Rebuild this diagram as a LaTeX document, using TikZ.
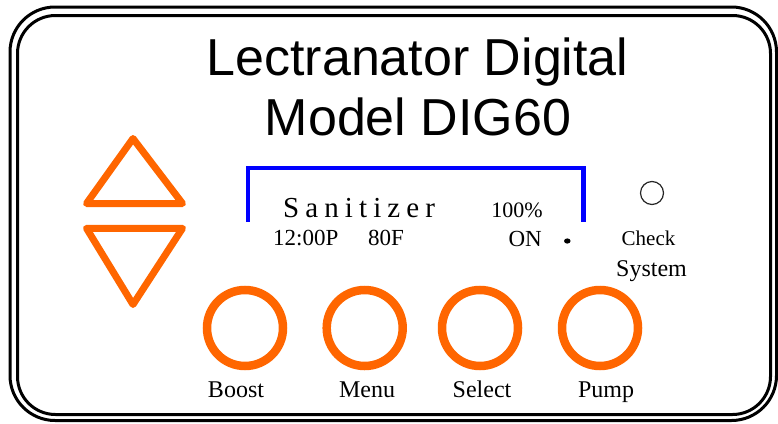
\documentclass[tikz,border=0pt]{standalone}
\usepackage{fontspec}
\setmainfont{Liberation Serif}
\newfontfamily\titlefont{Liberation Sans}
\definecolor{btnorange}{HTML}{FF6600}
\definecolor{lcdblue}{HTML}{0000FF}
\tikzset{
  frameline/.style={draw=black, line width=3pt},
  btn/.style={draw=btnorange, line width=8.5pt},
  arrowbtn/.style={draw=btnorange, line width=7pt, line join=round},
  titletext/.style={inner sep=0pt, font=\titlefont\fontsize{52}{52}\selectfont},
  lcdtext/.style={inner sep=0pt, font=\fontsize{23}{23}\selectfont},
  lbl/.style={inner sep=0pt, font=\fontsize{24}{24}\selectfont},
}
\begin{document}
\begin{tikzpicture}[x=1pt,y=-1pt]
\useasboundingbox (0,0) rectangle (778,423);
% frame
\draw[frameline, rounded corners=45pt] (10,7) rectangle (776.5,420.5);
\draw[frameline, rounded corners=38pt] (17.5,15.5) rectangle (770.5,414.5);
% title
\node[titletext, anchor=base] (t1) at (417.5,75) {Lectranator Digital};
\node[titletext, anchor=base] (t2) at (418,135) {Model DIG60};
% arrows
\draw[arrowbtn] (133,138.5) -- (182.5,203.5) -- (86.5,203.5) -- cycle;
\draw[arrowbtn] (86.5,228.3) -- (182.5,228.3) -- (133,304.5) -- cycle;
% lcd bracket
\draw[draw=lcdblue, line width=4.5pt] (248,221.7) -- (248,168) -- (583.7,168) -- (583.7,221.7);
\node[inner sep=0pt, anchor=base west, font=\fontsize{29}{29}\selectfont\addfontfeatures{LetterSpace=21}] (san) at (283,217) {Sanitizer};
\node[lcdtext, font=\fontsize{22}{22}\selectfont, anchor=base east] (pct) at (543,217.3) {100\%};
\node[lcdtext, anchor=base west] (time) at (273,245) {12:00P};
\node[lcdtext, anchor=base west] (temp) at (368,245) {80F};
\node[lcdtext, anchor=base east] (on) at (542,246) {ON};
\fill (567.3,241) ellipse (3.3pt and 2.6pt);
% check system
\draw[draw=black!85, line width=1.2pt] (652,193) circle (11.5pt);
\node[inner sep=0pt, anchor=base, font=\fontsize{21}{21}\selectfont] (chk) at (648.5,245) {Check};
\node[inner sep=0pt, anchor=base, font=\fontsize{24}{24}\selectfont] (sys) at (651.5,276) {System};
% buttons
\draw[btn] (245,328) circle (38pt);
\draw[btn] (364.7,328) circle (38pt);
\draw[btn] (480,328) circle (38pt);
\draw[btn] (600,328) circle (38pt);
\node[lbl, anchor=base] (boost) at (236,397) {Boost};
\node[lbl, anchor=base] (menu) at (367,397) {Menu};
\node[lbl, anchor=base] (select) at (482,397) {Select};
\node[lbl, anchor=base] (pump) at (606,397) {Pump};
\end{tikzpicture}
\end{document}
